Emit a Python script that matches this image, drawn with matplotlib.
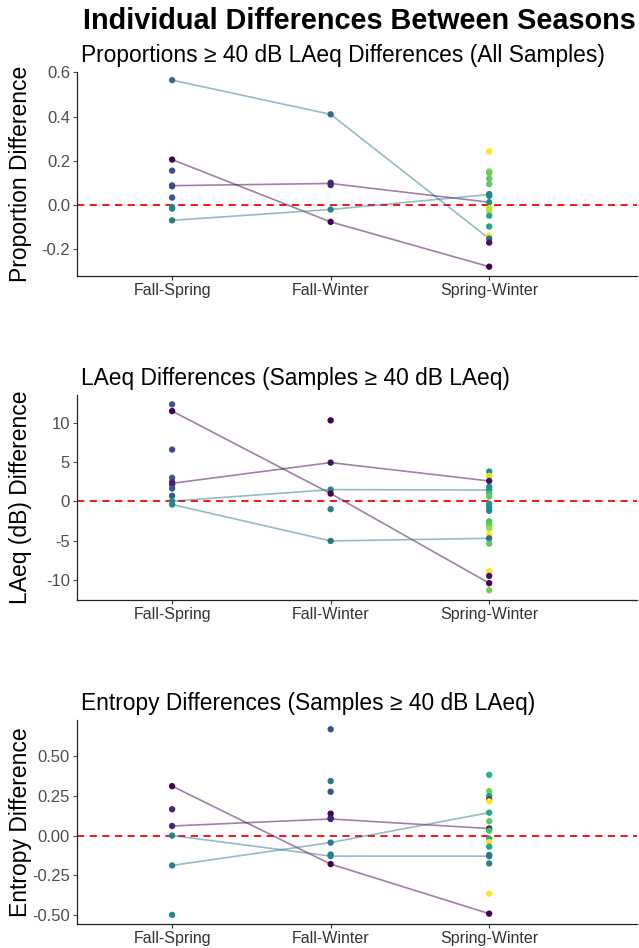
import matplotlib
matplotlib.use("Agg")
import matplotlib.pyplot as plt
import numpy as np

plt.rcParams['font.family'] = ['Liberation Sans', 'DejaVu Sans']

comparisons = ["Fall-Spring", "Fall-Winter", "Spring-Winter"]

# panel 1: proportions >= 40 dB
p1_comp = [0]*9 + [1]*5 + [2]*16
p1_val = [0.565, 0.205, 0.155, 0.088, 0.084, 0.033, -0.010, -0.017, -0.070,
          0.410, 0.100, 0.090, -0.021, -0.077,
          0.242, 0.151, 0.144, 0.118, 0.094, 0.049, 0.041, 0.012, -0.015, -0.026,
          -0.049, -0.098, -0.139, -0.153, -0.171, -0.280]
p1_col = [0.35, 0.0, 0.25, 0.22, 0.22, 0.25, 0.45, 0.45, 0.40,
          0.35, 0.10, 0.10, 0.45, 0.0,
          1.0, 0.80, 0.78, 0.75, 0.75, 0.45, 0.45, 0.50, 0.90, 0.90,
          0.60, 0.60, 1.0, 0.35, 0.05, 0.0]
p1_lines = [[0.565, 0.410, -0.153], [0.205, -0.077, -0.280],
            [0.087, 0.097, 0.012], [-0.070, -0.021, 0.047]]

# panel 2: LAeq differences
p2_comp = [0]*10 + [1]*6 + [2]*21
p2_val = [12.3, 11.45, 6.57, 3.0, 2.44, 2.15, 1.64, 0.72, 0.04, -0.38,
          10.27, 4.92, 1.5, 1.0, -0.97, -5.0,
          3.79, 3.24, 2.6, 1.85, 1.45, 1.0, 0.63, -0.3, -0.72, -1.18, -2.53,
          -2.86, -3.16, -3.41, -4.17, -4.67, -5.34, -8.8, -9.43, -10.35, -11.24]
p2_col = [0.25, 0.0, 0.22, 0.30, 0.10, 0.10, 0.28, 0.28, 0.45, 0.45,
          0.0, 0.05, 0.45, 0.0, 0.45, 0.38,
          0.50, 0.95, 0.05, 0.50, 0.50, 0.70, 0.75, 0.50, 0.50, 0.45, 0.70,
          0.75, 0.75, 0.85, 1.0, 0.35, 0.75, 1.0, 0.05, 0.0, 0.78]
p2_lines = [[11.45, 1.0, -10.35], [2.3, 4.92, 2.6],
            [0.04, 1.5, 1.45], [-0.38, -5.0, -4.67]]

# panel 3: entropy differences
p3_comp = [0]*6 + [1]*10 + [2]*17
p3_val = [0.31, 0.165, 0.06, 0.0, -0.1875, -0.498,
          0.667, 0.342, 0.275, 0.1375, 0.11, 0.104, -0.044, -0.119, -0.129, -0.179,
          0.381, 0.278, 0.247, 0.225, 0.215, 0.144, 0.09, 0.044, 0.031, -0.02,
          -0.04, -0.07, -0.121, -0.129, -0.175, -0.365, -0.49]
p3_col = [0.0, 0.10, 0.10, 0.45, 0.45, 0.45,
          0.25, 0.40, 0.25, 0.0, 0.05, 0.10, 0.40, 0.35, 0.45, 0.0,
          0.65, 0.78, 0.55, 0.10, 1.0, 0.60, 0.75, 0.05, 0.70, 0.60,
          1.0, 0.60, 0.45, 0.38, 0.45, 1.0, 0.0]
p3_lines = [[0.31, -0.179, -0.49], [0.06, 0.104, 0.044],
            [0.0, -0.129, -0.129], [-0.1875, -0.044, 0.144]]

line_cols = ["#440154", "#440154", "#2a788e", "#2a788e"]
line_cols_p1 = ["#2a788e", "#440154", "#440154", "#2a788e"]

panels = [
    (p1_comp, p1_val, p1_col, p1_lines, line_cols_p1,
     "Proportions \u2265 40 dB LAeq Differences (All Samples)", "Proportion Difference",
     (-0.322, 0.602), [-0.2, 0.0, 0.2, 0.4, 0.6], "{:.1f}", [0.7089, 0.2152]),
    (p2_comp, p2_val, p2_col, p2_lines, line_cols,
     "LAeq Differences (Samples \u2265 40 dB LAeq)", "LAeq (dB) Difference",
     (-12.48, 13.48), [-10, -5, 0, 5, 10], "{:.0f}", [0.3671, 0.2162]),
    (p3_comp, p3_val, p3_col, p3_lines, line_cols,
     "Entropy Differences (Samples \u2265 40 dB LAeq)", "Entropy Difference",
     (-0.555, 0.725), [-0.5, -0.25, 0.0, 0.25, 0.5], "{:.2f}", [0.0253, 0.2152]),
]

fig = plt.figure(figsize=(6.39, 9.48), dpi=100)
fig.text(0.5626, 0.978, "Individual Differences Between Seasons", ha="center", va="center",
         fontsize=20.8, fontweight="bold")

cmap = plt.get_cmap("viridis")
gray = "#4d4d4d"
for comp, val, col, lines, lcols, title, ylab, ylim, yticks, fmt, (bot, h) in panels:
    ax = fig.add_axes([0.1205, bot, 0.877, h])
    for ln, lc in zip(lines, lcols):
        ax.plot(range(3), ln, color=lc, alpha=0.5, lw=1.2, zorder=2)
    ax.axhline(0, color="red", lw=1.3, ls=(0, (4, 3)), zorder=1)
    ax.scatter(comp, val, c=[cmap(c) for c in col], s=21, zorder=3, linewidths=0)
    ax.set_xlim(-0.6, 2.935)
    ax.set_ylim(*ylim)
    ax.set_xticks(range(3))
    ax.set_xticklabels(comparisons)
    ax.set_yticks(yticks)
    ax.set_yticklabels([fmt.format(t) for t in yticks])
    ax.tick_params(colors=gray, labelsize=12, length=3, width=0.8, pad=2, labelcolor=gray)
    ax.tick_params(axis="x", colors="#333333", labelsize=11.5)
    for s in ["top", "right"]:
        ax.spines[s].set_visible(False)
    for s in ["left", "bottom"]:
        ax.spines[s].set_linewidth(0.9)
        ax.spines[s].set_color("#222222")
    ax.set_title(title, loc="left", fontsize=16.4, pad=7, x=0.008)
    ax.set_ylabel(ylab, fontsize=16.5)
    ax.yaxis.set_label_coords(-0.08, 0.5)

fig.savefig("out.png", dpi=100)
